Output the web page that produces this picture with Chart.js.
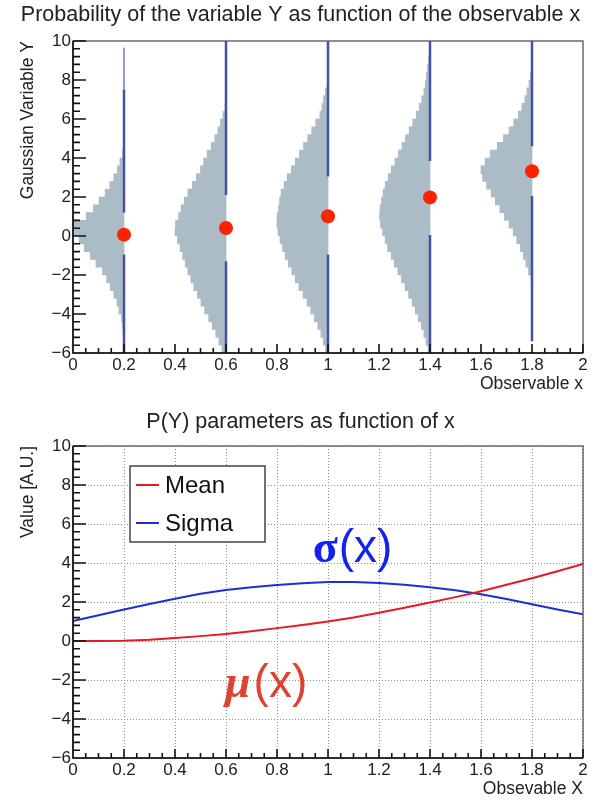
<!DOCTYPE html>
<html>
<head>
<meta charset="utf-8">
<script src="https://cdn.jsdelivr.net/npm/chart.js@4.4.1/dist/chart.umd.min.js"></script>
<style>
  html, body { margin: 0; padding: 0; background: #fff; }
  canvas { display: block; }
</style>
</head>
<body>
<canvas id="topChart" width="598" height="400"></canvas>
<canvas id="bottomChart" width="598" height="402"></canvas>
<script>
// ================= DATA =================
// lower edges of the Y bins (bin width 0.4)
const binLow = [-6.0, -5.6, -5.2, -4.8, -4.4, -4.0, -3.6, -3.2, -2.8, -2.4,
                -2.0, -1.6, -1.2, -0.8, -0.4, 0.0, 0.4, 0.8, 1.2, 1.6,
                2.0, 2.4, 2.8, 3.2, 3.6, 4.0, 4.4, 4.8, 5.2, 5.6,
                6.0, 6.4, 6.8, 7.2, 7.6, 8.0, 8.4, 8.8, 9.2, 9.6];
const binW = 0.4;

// x positions of the slices
const sliceX = [0.2, 0.6, 1.0, 1.4, 1.8];

// relative bin content of each slice (1 = widest bar)
const hist02 = [0, 0.01, 0.02, 0.03, 0.05, 0.1, 0.14, 0.2, 0.27, 0.34,
                0.42, 0.55, 0.66, 0.78, 0.88, 0.97, 1.0, 0.74, 0.6, 0.49,
                0.37, 0.28, 0.2, 0.13, 0.08, 0.03, 0.01, 0, 0, 0,
                0, 0, 0, 0, 0, 0, 0, 0, 0, 0];
const hist06 = [0.08, 0.14, 0.2, 0.27, 0.34, 0.42, 0.49, 0.56, 0.63, 0.69,
                0.75, 0.8, 0.85, 0.9, 0.95, 1.0, 0.99, 0.93, 0.88, 0.82,
                0.75, 0.66, 0.58, 0.5, 0.44, 0.37, 0.29, 0.22, 0.16, 0.11,
                0.06, 0.02, 0, 0, 0, 0, 0, 0, 0, 0];
const hist10 = [0.05, 0.09, 0.14, 0.2, 0.27, 0.34, 0.41, 0.49, 0.57, 0.64,
                0.71, 0.78, 0.84, 0.89, 0.94, 0.98, 1.0, 1.0, 0.97, 0.95,
                0.92, 0.86, 0.8, 0.72, 0.64, 0.56, 0.48, 0.4, 0.32, 0.24,
                0.16, 0.12, 0.09, 0.05, 0, 0, 0, 0, 0, 0];
const hist14 = [0.04, 0.08, 0.12, 0.17, 0.23, 0.29, 0.35, 0.42, 0.49, 0.56,
                0.63, 0.7, 0.76, 0.83, 0.88, 0.93, 0.97, 0.99, 0.98, 0.95,
                0.92, 0.88, 0.82, 0.76, 0.69, 0.62, 0.55, 0.48, 0.41, 0.34,
                0.27, 0.21, 0.16, 0.12, 0.09, 0.07, 0.05, 0.03, 0, 0];
const hist18 = [0, 0, 0, 0, 0, 0, 0, 0, 0, 0.02,
                0.07, 0.12, 0.17, 0.23, 0.3, 0.37, 0.45, 0.54, 0.63, 0.72,
                0.8, 0.89, 0.97, 1.0, 0.92, 0.82, 0.68, 0.56, 0.45, 0.36,
                0.27, 0.2, 0.14, 0.1, 0.06, 0.03, 0, 0, 0, 0];
const hists = [hist02, hist06, hist10, hist14, hist18];

// mean of each slice (red dots)
const sliceMean = [0.07, 0.41, 1.01, 1.98, 3.32];

// blue line segments on each slice: upper piece and lower piece
const upperTop = [7.5, 10, 10, 10, 10];
const upperBot = [1.2, 2.1, 3.05, 3.85, 4.6];
const lowerTop = [-0.95, -1.3, -0.95, 0.05, 2.05];
const lowerBot = [-6, -6, -6, -6, -5.4];
const tailTop = 9.65; // thin tail above the first slice

// bottom chart: parameters vs x
const xs = [0, 0.1, 0.2, 0.3, 0.4, 0.5, 0.6, 0.7, 0.8, 0.9, 1.0,
            1.1, 1.2, 1.3, 1.4, 1.5, 1.6, 1.7, 1.8, 1.9, 2.0];
const meanVals = [0, 0, 0.01, 0.06, 0.15, 0.25, 0.36, 0.5, 0.66, 0.82, 1.0,
                  1.2, 1.45, 1.7, 1.97, 2.25, 2.55, 2.88, 3.22, 3.58, 3.95];
const sigmaVals = [1.02, 1.32, 1.62, 1.9, 2.17, 2.42, 2.62, 2.76, 2.87, 2.96, 3.02,
                   3.02, 2.97, 2.88, 2.76, 2.6, 2.4, 2.15, 1.88, 1.62, 1.37];

// ================= STYLE =================
const FONT = '"Liberation Sans", Arial, Helvetica, sans-serif';
const maxBarWidth = 0.2; // widest bar in x units

// frame + inward ROOT-like ticks
const rootFrame = {
    id: 'rootFrame',
    afterDraw(chart) {
        const { ctx, chartArea: a, scales: { x, y } } = chart;
        ctx.save();
        ctx.strokeStyle = '#555';
        ctx.lineWidth = 1.3;
        ctx.strokeRect(a.left, a.top, a.right - a.left, a.bottom - a.top);

        ctx.strokeStyle = '#111';
        ctx.lineWidth = 1.6;
        ctx.beginPath();
        ctx.moveTo(a.left, a.top);
        ctx.lineTo(a.left, a.bottom);
        ctx.lineTo(a.right, a.bottom);
        for (let i = 0; i <= 40; i++) {
            const py = y.getPixelForValue(y.min + i * 0.4);
            ctx.moveTo(a.left, py);
            ctx.lineTo(a.left + (i % 5 ? 7 : 13), py);
            const px = x.getPixelForValue(x.min + i * 0.05);
            ctx.moveTo(px, a.bottom);
            ctx.lineTo(px, a.bottom - (i % 4 ? 5 : 9));
        }
        ctx.stroke();
        ctx.restore();
    }
};

// legend box inside the bottom plot
const legendBox = {
    id: 'legendBox',
    afterDraw(chart) {
        const { ctx, chartArea: a } = chart;
        const bx = a.left + 57, by = a.top + 20, bw = 135, bh = 76;
        ctx.save();
        ctx.fillStyle = '#fff';
        ctx.fillRect(bx, by, bw, bh);
        ctx.strokeStyle = '#444';
        ctx.lineWidth = 1.5;
        ctx.strokeRect(bx, by, bw, bh);
        chart.data.datasets.forEach((ds, i) => {
            const ly = by + 19 + i * 38;
            ctx.strokeStyle = ds.borderColor;
            ctx.lineWidth = 2;
            ctx.beginPath();
            ctx.moveTo(bx + 6, ly);
            ctx.lineTo(bx + 29, ly);
            ctx.stroke();
            ctx.fillStyle = '#111';
            ctx.font = '24px ' + FONT;
            ctx.textBaseline = 'middle';
            ctx.fillText(ds.label, bx + 35, ly + 1);
        });
        ctx.restore();
    }
};

// sigma(x) / mu(x) labels next to the curves
const curveLabels = {
    id: 'curveLabels',
    afterDraw(chart) {
        const { ctx, scales: { x, y } } = chart;
        ctx.save();
        ctx.textBaseline = 'alphabetic';

        let px = x.getPixelForValue(0.94), py = y.getPixelForValue(4.04);
        ctx.fillStyle = '#1424ee';
        ctx.font = 'bold 46px "Liberation Serif", "DejaVu Serif", serif';
        ctx.fillText('σ', px, py);
        px += ctx.measureText('σ').width + 1;
        ctx.font = '46px ' + FONT;
        ctx.fillText('(x)', px, py);

        px = x.getPixelForValue(0.596); py = y.getPixelForValue(-2.89);
        ctx.fillStyle = '#de4332';
        ctx.font = 'italic bold 46px "Liberation Serif", "DejaVu Serif", serif';
        ctx.fillText('μ', px, py);
        px += ctx.measureText('μ').width + 3;
        ctx.font = '46px ' + FONT;
        ctx.fillText('(x)', px, py);
        ctx.restore();
    }
};

function tickLabel(v) {
    const r = Math.round(v * 10) / 10;
    return r < 0 ? '\u2212' + Math.abs(r) : String(r);
}

function buildScales(xTitle, yTitle, showGrid, xHeight, xTitlePad) {
    return {
        x: {
            type: 'linear', position: 'bottom', min: 0, max: 2, offset: false,
            ticks: { stepSize: 0.2, padding: 2, color: '#222', autoSkip: false, maxRotation: 0,
                     callback: tickLabel, font: { family: FONT, size: 17 } },
            grid: { display: showGrid, drawTicks: false, offset: false, color: '#8a8a8a', lineWidth: 1 },
            border: { display: false, dash: [1, 2] },
            title: { display: true, text: xTitle, align: 'end', color: '#222',
                     font: { family: FONT, size: 17.5 }, padding: { top: 0, bottom: xTitlePad } },
            afterFit: s => { s.height = xHeight; }
        },
        y: {
            type: 'linear', position: 'left', min: -6, max: 10, offset: false,
            ticks: { stepSize: 2, padding: 2, color: '#222', callback: tickLabel,
                     font: { family: FONT, size: 17 } },
            grid: { display: showGrid, drawTicks: false, offset: false, color: '#8a8a8a', lineWidth: 1 },
            border: { display: false, dash: [1, 2] },
            title: { display: true, text: yTitle, align: 'end', color: '#222',
                     font: { family: FONT, size: 17.5 }, padding: { top: 0, bottom: 0 } },
            afterFit: s => { s.width = 55; }
        }
    };
}

// ================= TOP CHART =================
const histSets = sliceX.map((xc, k) => ({
    type: 'bar',
    indexAxis: 'y',
    grouped: false,
    data: binLow
        .map((lo, i) => ({ y: lo + binW / 2, x: [xc - hists[k][i] * maxBarWidth, xc] }))
        .filter(d => d.x[0] < d.x[1]),
    backgroundColor: '#abbcc6',
    borderWidth: 0,
    barPercentage: 1,
    categoryPercentage: 1,
    order: 3
}));

const segPts = [];
sliceX.forEach((xc, i) => {
    segPts.push({ x: xc, y: upperTop[i] }, { x: xc, y: upperBot[i] }, { x: xc, y: null });
    segPts.push({ x: xc, y: lowerTop[i] }, { x: xc, y: lowerBot[i] }, { x: xc, y: null });
});

new Chart(document.getElementById('topChart'), {
    type: 'bar',
    data: {
        datasets: [
            {
                type: 'scatter',
                data: sliceX.map((xc, i) => ({ x: xc, y: sliceMean[i] })),
                pointRadius: 7,
                pointBackgroundColor: '#ff2200',
                pointBorderWidth: 0,
                order: 1
            },
            {
                type: 'line',
                data: segPts,
                borderColor: '#4352a6',
                borderWidth: 2.5,
                pointRadius: 0,
                spanGaps: false,
                order: 2
            },
            {
                type: 'line',
                data: [{ x: sliceX[0], y: tailTop }, { x: sliceX[0], y: upperTop[0] }],
                borderColor: '#7f8cc4',
                borderWidth: 1,
                pointRadius: 0,
                order: 2
            },
            ...histSets
        ]
    },
    options: {
        responsive: false,
        animation: false,
        layout: { padding: { left: 18, right: 15, top: 0, bottom: 0 } },
        scales: buildScales('Observable x', 'Gaussian Variable Y', false, 47, 5),
        plugins: {
            legend: { display: false },
            tooltip: { enabled: false },
            title: {
                display: true,
                text: 'Probability of the variable Y as function of the observable x',
                color: '#222',
                font: { family: FONT, size: 21.5, weight: 'normal' },
                padding: { top: 2.6, bottom: 12.6 }
            }
        }
    },
    plugins: [rootFrame]
});

// ================= BOTTOM CHART =================
new Chart(document.getElementById('bottomChart'), {
    type: 'line',
    data: {
        datasets: [
            {
                label: 'Mean',
                data: xs.map((x, i) => ({ x: x, y: meanVals[i] })),
                borderColor: '#e31b23',
                borderWidth: 2,
                pointRadius: 0
            },
            {
                label: 'Sigma',
                data: xs.map((x, i) => ({ x: x, y: sigmaVals[i] })),
                borderColor: '#1c2fd2',
                borderWidth: 2,
                pointRadius: 0
            }
        ]
    },
    options: {
        responsive: false,
        animation: false,
        layout: { padding: { left: 18, right: 15, top: 0, bottom: 0 } },
        scales: buildScales('Obsevable X', 'Value [A.U.]', true, 44, 2.5),
        plugins: {
            legend: { display: false },
            tooltip: { enabled: false },
            title: {
                display: true,
                text: 'P(Y) parameters as function of x',
                color: '#222',
                font: { family: FONT, size: 21.5, weight: 'normal' },
                padding: { top: 9.1, bottom: 11.1 }
            }
        }
    },
    plugins: [rootFrame, legendBox, curveLabels]
});
</script>
</body>
</html>
